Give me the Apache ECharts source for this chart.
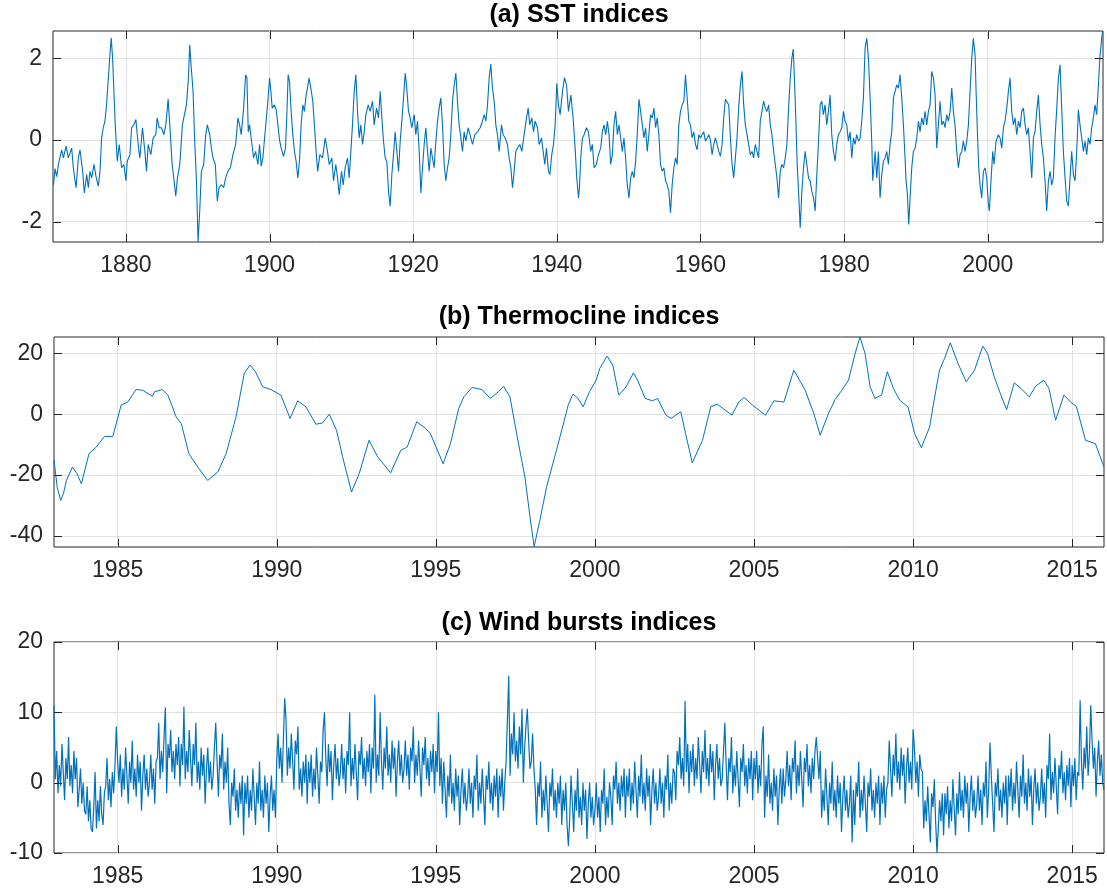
<!DOCTYPE html>
<html>
<head>
<meta charset="utf-8">
<title>SST, thermocline and wind bursts indices</title>
<script src="https://cdn.jsdelivr.net/npm/echarts@6/dist/echarts.min.js"></script>
<style>
  html, body { margin: 0; padding: 0; background: #fff; }
  #main { width: 1107px; height: 894px; }
</style>
</head>
<body>
<div id="main"></div>
<script>
// values: [year, index]
var sstPoints = [
  [1869.92,-1.1],[1870.14,-0.7],[1870.37,-0.9],[1870.6,-0.6],[1871.06,-0.24],[1871.3,-0.44],[1871.67,-0.15],[1871.99,-0.44],
  [1872.45,-0.2],[1872.69,-0.7],[1873.06,-1.17],[1873.38,-0.44],[1873.61,-0.24],[1873.98,-0.77],[1874.21,-1.3],[1874.54,-0.85],
  [1874.77,-1.17],[1875.0,-0.77],[1875.23,-0.93],[1875.56,-0.6],[1875.83,-0.89],[1876.16,-1.13],[1876.39,-0.77],[1876.62,0.05],
  [1876.85,0.3],[1877.08,0.46],[1877.31,0.86],[1877.55,1.5],[1877.78,2.1],[1877.96,2.5],[1878.15,2.0],[1878.33,1.2],
  [1878.52,0.37],[1878.8,-0.52],[1879.07,-0.11],[1879.4,-0.68],[1879.72,-0.6],[1880.0,-1.0],[1880.19,-0.52],[1880.56,-0.36],
  [1880.79,0.3],[1881.11,0.37],[1881.39,0.5],[1881.71,-0.11],[1881.94,-0.44],[1882.31,0.3],[1882.64,-0.28],[1882.87,-0.77],
  [1883.1,-0.11],[1883.47,-0.36],[1883.8,0.05],[1884.17,0.13],[1884.35,0.54],[1884.63,0.3],[1884.95,0.3],[1885.28,0.13],
  [1885.56,0.37],[1885.88,1.0],[1886.11,0.37],[1886.44,-0.6],[1886.71,-1.0],[1886.94,-1.38],[1887.18,-0.93],[1887.5,-0.6],
  [1887.87,0.37],[1888.1,0.58],[1888.43,0.86],[1888.7,1.5],[1888.89,2.33],[1889.07,1.84],[1889.35,1.2],[1889.58,-0.03],
  [1889.81,-0.93],[1890.05,-2.5],[1890.28,-1.74],[1890.51,-0.77],[1890.83,-0.6],[1891.11,0.13],[1891.34,0.37],[1891.67,0.13],
  [1891.9,-0.2],[1892.13,-0.44],[1892.45,-0.6],[1892.73,-1.5],[1892.96,-1.17],[1893.29,-1.1],[1893.61,-1.17],[1893.89,-0.93],
  [1894.21,-0.77],[1894.54,-0.68],[1894.91,-0.36],[1895.28,-0.11],[1895.6,0.54],[1895.83,0.37],[1896.06,0.13],[1896.39,0.78],
  [1896.67,1.6],[1896.85,1.52],[1897.04,0.2],[1897.22,0.37],[1897.5,-0.03],[1897.78,-0.44],[1898.06,-0.28],[1898.38,-0.6],
  [1898.61,-0.11],[1898.84,-0.64],[1899.07,-0.44],[1899.44,0.3],[1899.77,0.95],[1900.0,1.52],[1900.19,1.19],[1900.37,0.78],
  [1900.69,0.86],[1900.93,0.74],[1901.16,0.37],[1901.39,0.0],[1901.62,-0.2],[1901.94,-0.4],[1902.22,-0.2],[1902.41,0.62],
  [1902.59,1.6],[1902.78,1.43],[1903.01,0.7],[1903.24,0.13],[1903.47,-0.28],[1903.7,-0.52],[1903.94,-0.93],[1904.17,-0.52],
  [1904.4,0.37],[1904.63,0.86],[1904.86,0.7],[1905.09,1.1],[1905.32,1.31],[1905.5,1.52],[1905.79,1.23],[1906.02,0.95],
  [1906.25,0.37],[1906.48,-0.28],[1906.71,-0.77],[1907.0,-0.36],[1907.38,-0.44],[1907.75,0.05],[1908.07,-0.28],[1908.31,-0.6],
  [1908.68,-0.44],[1908.91,-1.0],[1909.23,-0.6],[1909.47,-0.93],[1909.7,-1.34],[1910.02,-0.77],[1910.26,-1.1],[1910.53,-0.68],
  [1910.86,-0.44],[1911.09,-0.93],[1911.32,-0.28],[1911.55,0.37],[1911.79,1.19],[1912.02,1.6],[1912.25,0.7],[1912.48,0.05],
  [1912.71,0.37],[1912.95,-0.11],[1913.18,0.2],[1913.41,0.62],[1913.74,0.86],[1914.01,0.7],[1914.34,0.95],[1914.57,0.37],
  [1914.9,0.78],[1915.17,0.54],[1915.41,1.19],[1915.64,0.54],[1915.87,-0.03],[1916.1,-0.44],[1916.33,-0.52],[1916.57,-1.26],
  [1916.8,-1.62],[1917.03,-0.85],[1917.26,-0.36],[1917.49,0.2],[1917.73,-0.28],[1917.96,-0.77],[1918.19,-0.03],[1918.42,0.46],
  [1918.65,1.03],[1918.89,1.64],[1919.07,1.35],[1919.35,0.7],[1919.58,0.54],[1919.81,0.3],[1920.14,0.62],[1920.37,0.13],
  [1920.6,0.46],[1920.84,-0.28],[1921.07,-1.3],[1921.3,-0.68],[1921.53,-0.11],[1921.76,0.3],[1922.0,-0.28],[1922.23,-0.77],
  [1922.46,-0.2],[1922.69,-0.44],[1922.92,-0.68],[1923.16,-0.03],[1923.39,0.46],[1923.62,0.78],[1923.85,1.03],[1924.08,0.37],
  [1924.32,-0.6],[1924.55,-1.0],[1924.78,-0.68],[1925.01,-0.44],[1925.24,0.13],[1925.48,0.95],[1925.71,1.35],[1925.94,1.64],
  [1926.17,0.95],[1926.4,0.37],[1926.64,0.05],[1926.87,-0.28],[1927.1,0.2],[1927.33,-0.03],[1927.66,0.3],[1928.03,0.05],
  [1928.26,-0.11],[1928.58,0.13],[1928.96,0.2],[1929.33,0.3],[1929.65,0.46],[1929.88,0.62],[1930.12,0.46],[1930.35,0.86],
  [1930.58,1.52],[1930.81,1.86],[1931.04,1.27],[1931.28,0.95],[1931.51,0.37],[1931.74,0.13],[1931.97,-0.28],[1932.3,0.37],
  [1932.53,0.13],[1932.81,0.05],[1933.13,-0.11],[1933.36,-0.44],[1933.6,-0.68],[1933.83,-1.17],[1934.06,-0.77],[1934.29,-0.28],
  [1934.52,-0.2],[1934.85,-0.11],[1935.13,-0.28],[1935.45,0.13],[1935.78,0.54],[1936.01,0.78],[1936.24,0.37],[1936.52,0.54],
  [1936.75,0.2],[1936.98,0.46],[1937.31,0.3],[1937.54,-0.11],[1937.87,0.05],[1938.1,-0.28],[1938.33,-0.6],[1938.56,-0.2],
  [1938.84,-0.77],[1939.03,-0.85],[1939.3,-0.36],[1939.54,-0.11],[1939.77,0.37],[1940.0,1.39],[1940.23,0.86],[1940.46,0.62],
  [1940.79,1.19],[1941.07,1.53],[1941.35,1.35],[1941.62,0.7],[1941.95,1.1],[1942.27,0.54],[1942.55,-0.2],[1942.78,-0.93],
  [1943.02,-1.42],[1943.15,-1.17],[1943.33,-0.44],[1943.56,0.05],[1943.8,0.13],[1944.12,0.3],[1944.4,0.2],[1944.72,-0.28],
  [1944.95,-0.11],[1945.19,-0.68],[1945.51,-0.6],[1945.79,-0.36],[1946.11,-0.2],[1946.34,0.2],[1946.57,0.37],[1946.81,0.13],
  [1947.04,0.46],[1947.27,0.13],[1947.5,-0.6],[1947.73,-0.36],[1947.96,0.37],[1948.19,0.7],[1948.43,0.13],[1948.66,0.37],
  [1948.89,0.05],[1949.12,-0.28],[1949.35,0.05],[1949.58,-0.44],[1949.81,-1.1],[1950.05,-1.42],[1950.28,-0.93],[1950.51,-0.77],
  [1950.74,-0.93],[1950.97,-0.52],[1951.2,0.13],[1951.44,1.0],[1951.67,0.7],[1951.9,0.37],[1952.13,0.05],[1952.36,0.3],
  [1952.59,-0.28],[1952.82,0.13],[1953.06,0.62],[1953.29,0.54],[1953.52,0.78],[1953.75,0.3],[1953.98,0.54],[1954.21,0.13],
  [1954.44,-0.6],[1954.68,-0.77],[1954.91,-0.68],[1955.14,-1.0],[1955.37,-1.1],[1955.6,-1.26],[1955.83,-1.78],[1956.06,-1.1],
  [1956.3,-0.68],[1956.53,-0.44],[1956.76,-0.6],[1956.99,0.37],[1957.22,0.7],[1957.45,0.86],[1957.69,0.95],[1957.92,1.6],
  [1958.15,1.03],[1958.38,0.46],[1958.61,0.37],[1958.84,0.05],[1959.07,0.2],[1959.31,-0.11],[1959.54,-0.24],[1959.77,0.13],
  [1960.0,0.05],[1960.23,0.13],[1960.46,0.2],[1960.69,-0.03],[1960.93,0.05],[1961.16,0.13],[1961.39,0.0],[1961.62,-0.36],
  [1961.85,-0.11],[1962.08,0.05],[1962.31,-0.11],[1962.55,-0.28],[1962.78,-0.4],[1963.01,-0.11],[1963.24,0.54],[1963.47,1.0],
  [1963.7,1.03],[1963.94,0.86],[1964.17,0.05],[1964.4,-0.6],[1964.63,-0.93],[1964.86,-0.44],[1965.09,0.05],[1965.32,0.78],
  [1965.56,1.35],[1965.79,1.68],[1966.02,0.86],[1966.25,0.37],[1966.48,0.13],[1966.71,-0.11],[1966.94,-0.36],[1967.18,-0.28],
  [1967.41,-0.44],[1967.64,-0.11],[1967.87,-0.28],[1968.1,-0.44],[1968.33,0.46],[1968.56,0.7],[1968.8,0.95],[1969.03,0.78],
  [1969.26,0.7],[1969.49,0.86],[1969.72,0.37],[1969.95,0.13],[1970.19,-0.28],[1970.42,-0.6],[1970.65,-0.93],[1970.88,-1.42],
  [1971.11,-0.77],[1971.34,-0.6],[1971.57,-0.68],[1971.81,-0.44],[1972.04,-0.11],[1972.27,0.78],[1972.5,1.52],[1972.73,2.0],
  [1972.92,2.23],[1973.1,1.43],[1973.29,0.46],[1973.47,-0.6],[1973.66,-1.26],[1973.89,-2.15],[1974.12,-1.26],[1974.35,-0.68],
  [1974.58,-0.28],[1974.81,-0.6],[1975.05,-0.93],[1975.28,-1.0],[1975.51,-1.26],[1975.74,-1.42],[1975.97,-1.74],[1976.2,-0.85],
  [1976.44,-0.03],[1976.67,0.86],[1976.89,0.95],[1977.12,0.62],[1977.35,0.86],[1977.59,0.37],[1977.82,0.7],[1978.05,1.1],
  [1978.28,0.13],[1978.52,-0.28],[1978.75,-0.52],[1978.98,-0.11],[1979.21,0.13],[1979.44,0.2],[1979.68,0.3],[1979.91,0.7],
  [1980.14,0.46],[1980.37,0.37],[1980.6,-0.03],[1980.84,0.2],[1981.07,-0.44],[1981.3,0.05],[1981.53,-0.11],[1981.76,0.13],
  [1982.0,-0.03],[1982.23,0.05],[1982.46,0.46],[1982.69,1.03],[1982.92,2.25],[1983.16,2.49],[1983.39,2.0],[1983.62,1.03],
  [1983.85,-0.03],[1983.99,-1.0],[1984.18,-0.6],[1984.32,-0.28],[1984.55,-0.93],[1984.78,-0.28],[1985.01,-1.42],[1985.24,-0.85],
  [1985.48,-0.52],[1985.71,-0.44],[1985.94,-0.28],[1986.17,-0.6],[1986.4,-0.11],[1986.64,0.2],[1986.87,1.03],[1987.1,1.19],
  [1987.33,1.35],[1987.56,1.27],[1987.8,1.6],[1988.03,1.03],[1988.26,0.37],[1988.49,-0.44],[1988.63,-1.0],[1988.82,-1.34],
  [1989.0,-2.07],[1989.19,-1.42],[1989.42,-0.68],[1989.65,-0.28],[1989.88,-0.2],[1990.12,0.05],[1990.35,0.46],[1990.58,0.2],
  [1990.81,0.54],[1991.04,0.37],[1991.28,0.7],[1991.51,0.37],[1991.74,0.7],[1991.97,0.86],[1992.2,1.68],[1992.44,1.52],
  [1992.67,1.1],[1992.9,-0.2],[1993.13,0.37],[1993.36,0.95],[1993.6,0.37],[1993.83,0.46],[1994.06,0.3],[1994.29,0.62],
  [1994.52,0.46],[1994.76,0.7],[1994.99,1.27],[1995.22,0.7],[1995.45,0.37],[1995.68,-0.28],[1995.92,-0.68],[1996.15,-0.36],
  [1996.38,-0.28],[1996.61,-0.03],[1996.84,-0.28],[1997.08,-0.03],[1997.31,0.37],[1997.54,1.19],[1997.77,2.0],[1998.0,2.49],
  [1998.24,2.08],[1998.38,1.19],[1998.56,0.2],[1998.75,-0.68],[1998.93,-1.1],[1999.16,-1.42],[1999.4,-0.77],[1999.63,-0.68],
  [1999.86,-0.93],[2000.09,-1.58],[2000.23,-1.74],[2000.42,-1.1],[2000.7,-0.28],[2000.88,-0.6],[2001.16,-0.03],[2001.48,0.13],
  [2001.72,0.05],[2001.95,-0.2],[2002.18,0.3],[2002.41,0.46],[2002.65,0.78],[2002.88,1.19],[2003.11,1.52],[2003.34,0.7],
  [2003.57,0.37],[2003.8,0.54],[2004.04,0.13],[2004.27,0.46],[2004.5,0.3],[2004.73,0.7],[2004.97,0.78],[2005.2,0.37],
  [2005.43,0.13],[2005.66,0.3],[2005.89,-0.28],[2006.13,-0.93],[2006.36,0.05],[2006.59,0.2],[2006.82,0.7],[2007.05,1.1],
  [2007.29,0.37],[2007.52,-0.11],[2007.75,-0.44],[2007.98,-1.0],[2008.21,-1.74],[2008.45,-1.0],[2008.68,-0.77],[2008.91,-1.1],
  [2009.14,-0.93],[2009.37,0.05],[2009.61,0.78],[2009.84,1.52],[2010.07,1.84],[2010.3,0.78],[2010.53,-0.28],[2010.77,-0.93],
  [2011.0,-1.5],[2011.23,-1.62],[2011.46,-0.93],[2011.69,-0.28],[2011.93,-0.85],[2012.16,-1.0],[2012.39,-0.28],[2012.62,0.74],
  [2012.85,0.37],[2013.09,0.05],[2013.32,-0.28],[2013.55,-0.03],[2013.78,-0.36],[2014.01,0.05],[2014.24,-0.11],[2014.48,0.3],
  [2014.71,0.54],[2014.94,0.86],[2015.17,0.62],[2015.41,1.35],[2015.64,2.08],[2015.87,2.49],[2016.0,2.67]
];

var thermoPoints = [
  [1983.0,-15],[1983.1,-24],[1983.21,-28.4],[1983.3,-26],[1983.39,-21.8],[1983.58,-17.4],[1983.72,-19.5],[1983.86,-22.9],
  [1984.1,-13],[1984.33,-10.8],[1984.59,-7.3],[1984.85,-7.3],[1985.11,3],[1985.32,4],[1985.58,8.1],[1985.79,7.9],
  [1986.09,5.9],[1986.16,7.4],[1986.4,8.1],[1986.58,6.3],[1986.84,-0.9],[1987.0,-3.1],[1987.24,-13],[1987.52,-17.4],
  [1987.83,-21.8],[1988.15,-19],[1988.41,-13],[1988.72,-0.9],[1988.98,13.4],[1989.16,16.2],[1989.33,14],[1989.56,9],
  [1989.82,8.1],[1990.13,6.3],[1990.42,-1.4],[1990.66,4.4],[1990.92,2.4],[1991.23,-3.3],[1991.44,-2.9],[1991.65,0],
  [1991.88,-5.3],[1992.07,-14],[1992.35,-25.6],[1992.59,-19.6],[1992.9,-8.6],[1993.17,-14],[1993.58,-19.3],[1993.9,-11.9],
  [1994.1,-10.8],[1994.4,-2.5],[1994.68,-4.7],[1994.83,-6.4],[1995.23,-16.3],[1995.46,-9.7],[1995.72,1.9],[1995.88,5.7],
  [1996.14,8.8],[1996.45,8.1],[1996.71,5.2],[1996.97,7.4],[1997.13,9.2],[1997.33,5.7],[1997.54,-6.4],[1997.8,-20.7],
  [1997.96,-33.8],[1998.09,-43.6],[1998.27,-34.9],[1998.48,-24],[1998.79,-11.9],[1999.0,-3.6],[1999.16,3],[1999.31,6.6],
  [1999.47,5.2],[1999.63,2.4],[1999.83,7.4],[2000.04,11.2],[2000.15,15],[2000.38,19.1],[2000.56,16.2],[2000.75,6.3],
  [2000.98,9],[2001.21,13.6],[2001.34,11.2],[2001.58,5.2],[2001.81,4.4],[2001.97,5.2],[2002.23,-0.3],[2002.39,-1.4],
  [2002.7,0.8],[2002.85,-6.4],[2003.06,-16],[2003.38,-8.6],[2003.64,2.4],[2003.84,3.3],[2004.1,1.3],[2004.31,-0.3],
  [2004.52,4],[2004.69,5.5],[2004.95,3],[2005.16,1.3],[2005.36,-0.3],[2005.63,4.4],[2005.94,4],[2006.25,14.5],
  [2006.61,7.9],[2006.88,0.2],[2007.08,-6.9],[2007.34,0.2],[2007.55,4.8],[2007.76,7.9],[2007.97,11.2],[2008.18,20],
  [2008.33,25.4],[2008.49,20],[2008.65,9],[2008.8,5.2],[2009.01,6.3],[2009.19,14],[2009.38,8.5],[2009.58,4.6],
  [2009.84,2.4],[2010.05,-6.4],[2010.26,-11],[2010.52,-4.2],[2010.68,5.7],[2010.83,14.5],[2010.99,18.4],[2011.17,23.5],
  [2011.41,16.7],[2011.67,10.7],[2011.93,14.5],[2012.19,22.4],[2012.34,20],[2012.55,12.3],[2012.76,6.3],[2012.94,1.5],
  [2013.18,10.3],[2013.39,8.5],[2013.65,5.7],[2013.85,9.2],[2014.11,11.2],[2014.27,8.5],[2014.48,-2],[2014.74,6.3],
  [2014.95,4],[2015.13,2.6],[2015.42,-8.6],[2015.73,-9.7],[2016.0,-17.4]
];

// wind bursts: 24 readings per year from 1983.0 (one row per year)
var windStart = 1983;
var windPerYear = 24;
var windValues = [
  11, 0.5, 4.5, -1.5, 2.5, -0.5, 5.5, 1.5, -2.5, 3.5, 0.5, 6.5, -0.5, 2.5, -1.5, 4.5, 0.5, 3.5, -3.5, -1, 2, -3, 0, -4,
  -4.5, -0.5, -5.5, -2.5, -6.5, -7, -3.5, 1.5, -6.5, -2.5, -5.5, -0.5, -4.5, -6, -1.5, -0.5, 3.5, -2.5, 0.5, -3.5, 1.5, -1.5, 2.5, 8,
  3, 0, 4, -2, 2, -1, 5, 1, -3, 3, 0, 6, -1, 2, -2, 4, 0, 3, -4, 1, 4, -1, 2, -2,
  0, 4, -1, 2, -3, 3, 3.5, 8.5, 0.5, 4.5, 1.5, 6.5, 10.7, -1.5, 5.5, 3.5, 7.5, 1.5, 4.5, 0.5, 5.5, 2.5, 6.5, -0.5,
  5.5, 2.5, 10.8, 0.5, 4.5, 1.5, 7.5, 3.5, -0.5, 5.5, 2.5, 8.5, 0, 3, -1, 5, 1, 4, -3, 2, 5, 0, 3, -1,
  1, 5, 8.5, 3, -2, 4, 2, 7, -1, 3, 0, 5, -3, -6, 0, -2, 2, -4, -1, -5, 0, -3, 1, -7.5,
  0, -3, 1, -5, -1, -4, 2, -2, -6, 0, -3, 3, -4, -1, -5, 1, -3, 0, -7, -2, 1, -4, -1, -5,
  3, 7, 2, 5, 0, 6, 12, 9, 1, 5, 2, 7, 3, -1, 6, 4, 8, -1, 2, -2, 3, 0, 4, -3,
  3, 0, 4, -2, 2, -1, 5, 1, -3, 3, 1.5, 7.5, 10, 3.5, -0.5, 5.5, 1.5, 4.5, -2.5, 2.5, 5.5, 0.5, 3.5, -0.5,
  1.5, 5.5, 0.5, 3.5, -1.5, 4.5, 2.5, 10, -0.5, 3.5, 0.5, 5.5, 1.5, -2.5, 4.5, 2.5, 6.5, 0.5, 3.5, -0.5, 4.5, 1.5, 5.5, -1.5,
  5, 2, 12.5, 0, 4, 1, 10, 3, -1, 5, 2, 8, 1, 4, 0, 6, 2, 5, -2, 3, 6, 1, 4, 0,
  2, 6, 1, 4, -1, 5, 3, 8, 0, 4, 1, 6, 2, -2, 5, 2.5, 6.5, 0.5, 3.5, -0.5, 4.5, 1.5, 5.5, -1.5,
  4.5, 1.5, 10, -0.5, 3.5, -3, 3, -1, -5, 1, -2, 4, -3, 0, -4, 2, -2, 1, -6, -1, 2, -3, 0, -4,
  -2, 2, -3, 0, -5, 1, -1, 4, -4, 0, -3, 2, -2, -6, 1, -1, 3, -3, 0, -4, 1, -2, 2, -5,
  1, -2, 2, -4, 0, 3, 9, 15.2, 1, 7, 4, 10, 3, 6, 2, 8, 4, 10.5, 0, 5, 8, 10.5, 6, 2,
  3, 7, 2, -1, -6, 0, -2, 3, -5, -1, -4, 1, -3, -7, 0, -2, 2, -4, -1, -5, 0, -3, 1, -6,
  -1, -4, 0, -6, -9, -5, 1, -3, -7, -1, -4, 2, -5, -2, -6, 0, -4, -1, -8, -3, 0, -5, -2, -6,
  -4, 0, -5, -2, -7, -1, -3, 2, -6, -2, -5, 0, -2, -6, 1, -1, 3, -3, 0, -4, 1, -2, 2, -5,
  1, -2, 2, -4, 0, -3, 3, -1, -5, 1, -2, 4, -3, 0, -4, 2, -2, 1, -6, -1, 2, -3, 0, -4,
  -2, 2, -3, 0, -5, 1, -1, 4, -4, 0, -3, 2, 1.5, -2.5, 4.5, 2.5, 6.5, 0.5, 3.5, -0.5, 11.6, 1.5, 5.5, -1.5,
  4.5, 1.5, 5.5, -0.5, 3.5, 0.5, 6.5, 2.5, -1.5, 4.5, 1.5, 7.5, 0.5, 3.5, -0.5, 5.5, 1.5, 4.5, -2.5, 2.5, 5.5, 0.5, 3.5, -0.5,
  0.5, 4.5, 8.5, 2.5, -2.5, 3.5, 1.5, 6.5, -1.5, 2.5, -0.5, 4.5, 0.5, -3.5, 3.5, 1.5, 5.5, -0.5, 2.5, -1.5, 3.5, 0.5, 4.5, -2.5,
  3.5, 0.5, 4.5, -1.5, 2.5, -0.5, 5.5, 8, -5, 1, -2, 4, -3, 0, -4, 2, -2, 1, -6, -1, 2, -3, 2, -2,
  0.5, 4.5, -0.5, 2.5, -2.5, 3.5, 1.5, 6, -1.5, 2.5, -0.5, 4.5, 0.5, -3.5, 3.5, 1.5, 5.5, -0.5, 2.5, -1.5, 3.5, 0.5, 4.5, 6.5,
  3.5, 0.5, 4.5, -5, -1, -4, 2, -2, -6, 0, -3, 3, -4, -1, -5, 1, -3, 0, -7, -2, 1, -4, -1, -5,
  -3, 1, -8.5, -1, -6, 0, -2, 3, -5, -1, -4, 1, -3, -7, 0, -2, 2, -4, -1, -5, 0, -3, 1, -6,
  0, -3, 1, -5, -1, 0, 6, 2, -2, 4, 1, 7, 0, 3, -1, 5, 1, 4, -3, 2, 5, 0, 3, -1,
  7.6, 5, 0, 3, -2, 4, 2, 1.5, -6.5, -2.5, -5.5, -0.5, -4.5, -8.5, -1.5, -3.5, 0.5, -5.5, -10, -6.5, -2.5, -5.5, -1.5, -7.5,
  -1.5, -4.5, -0.5, -6.5, -2.5, -5.5, 0.5, -3.5, -7.5, -1.5, -4.5, 1.5, -4, -1, -5, 1, -3, 0, -7, -2, 1, -4, -1, -5,
  -3, 1, -4, -1, -6, 0, -2, 3, -5, -1, 5.7, 1, -3, -7, 0, -2, 2, -4, -1, -5, 0, -3, 1, -6,
  1, -2, 2, -4, 0, -3, 3, -1, -5, 1, -2, 4, -3, 0, -4, 2, -2, 1, -6, -1, 2, -3, 0, -4,
  -2, 2, -3, 0, -5, 2.5, 0.5, 7, -2.5, 1.5, -1.5, 3.5, -0.5, -4.5, 2.5, 0.5, 4.5, -1.5, 1.5, -2.5, 2.5, -0.5, 3.5, -3.5,
  2.5, -0.5, 3.5, -2.5, 1.5, 1, 11.7, 3, -1, 5, 2, 8, 1, 4, 11, 6, 2, 5, -2, 3, 6, 1, 4, 0,
  -1
];

var sstYearTicks = [1880, 1900, 1920, 1940, 1960, 1980, 2000];
var yearTicks = [1985, 1990, 1995, 2000, 2005, 2010, 2015];
var sstTicks = [-2, 0, 2];
var thermoTicks = [-40, -20, 0, 20];
var windTicks = [-10, 0, 10, 20];
var titles = ['(a) SST indices', '(b) Thermocline indices', '(c) Wind bursts indices'];

var lineColor = '#0072bd';
var axisColor = '#262626';
var gridLineColor = '#e2e2e2';
var fontFamily = 'Arial, "Liberation Sans", Helvetica, sans-serif';
var tickLen = 8;

var chart = echarts.init(document.getElementById('main'), null, { renderer: 'canvas' });

var windData = windValues.map(function (v, i) {
  return [windStart + i / windPerYear, v];
});

function plain(v) { return String(v); }

// labelled axis on top of a bare axis that only carries the grid lines
function makeAxes(dim, gridIndex, min, max, ticks) {
  return [
    {
      type: 'value', gridIndex: gridIndex, position: dim === 'x' ? 'bottom' : 'left', min: min, max: max, z: 5,
      axisLine: { show: false, onZero: false },
      axisTick: { show: false, customValues: ticks },
      axisLabel: {
        customValues: ticks, formatter: plain, margin: dim === 'x' ? 12 : 11,
        color: axisColor, fontSize: 23, fontFamily: fontFamily
      },
      splitLine: { show: false }
    },
    {
      type: 'value', gridIndex: gridIndex, position: dim === 'x' ? 'bottom' : 'left', min: min, max: max, z: 0,
      axisLine: { show: false, onZero: false },
      axisTick: { show: false, customValues: ticks },
      axisLabel: { show: false },
      splitLine: { show: true, lineStyle: { color: gridLineColor, width: 1 } }
    }
  ];
}

function lineSeries(gridIndex, data, width) {
  return {
    type: 'line', xAxisIndex: gridIndex * 2, yAxisIndex: gridIndex * 2, data: data,
    symbol: 'none', showSymbol: false, silent: true, z: 2,
    lineStyle: { color: lineColor, width: width }
  };
}

// MATLAB-style inward ticks on all four sides, placed through the axis scales
function tickMarks(gridIndex, dim, ticks, across) {
  return {
    type: 'custom', xAxisIndex: gridIndex * 2, yAxisIndex: gridIndex * 2,
    silent: true, clip: false, z: 6,
    data: ticks.map(function (v) { return dim === 'x' ? [v, across] : [across, v]; }),
    renderItem: function (params, api) {
      var cs = params.coordSys;
      var pt = api.coord([api.value(0), api.value(1)]);
      function seg(x1, y1, x2, y2) {
        return { type: 'line', shape: { x1: x1, y1: y1, x2: x2, y2: y2 }, style: { stroke: axisColor, lineWidth: 1 } };
      }
      if (dim === 'x') {
        var px = Math.round(pt[0]) + 0.5;
        var bottom = cs.y + cs.height;
        return { type: 'group', children: [seg(px, bottom, px, bottom - tickLen), seg(px, cs.y, px, cs.y + tickLen)] };
      }
      var py = Math.round(pt[1]) + 0.5;
      var right = cs.x + cs.width;
      return { type: 'group', children: [seg(cs.x, py, cs.x + tickLen, py), seg(right, py, right - tickLen, py)] };
    }
  };
}

var gridBox = { show: true, borderColor: axisColor, borderWidth: 1, containLabel: false };

var option = {
  animation: false,
  backgroundColor: '#ffffff',
  grid: [
    Object.assign({ left: 53, right: 4, top: 31, height: 211 }, gridBox),
    Object.assign({ left: 54, right: 3, top: 337, height: 210 }, gridBox),
    Object.assign({ left: 54, right: 3, top: 642, height: 211 }, gridBox)
  ],
  xAxis: [].concat(
    makeAxes('x', 0, 1869.85, 2016.05, sstYearTicks),
    makeAxes('x', 1, 1983, 2016, yearTicks),
    makeAxes('x', 2, 1983, 2016, yearTicks)
  ),
  yAxis: [].concat(
    makeAxes('y', 0, -2.5, 2.67, sstTicks),
    makeAxes('y', 1, -43.7, 25.4, thermoTicks),
    makeAxes('y', 2, -10, 20, windTicks)
  ),
  graphic: titles.map(function (t, i) {
    return {
      type: 'text', x: 579, y: [15, 317, 623][i], silent: true,
      style: {
        text: t, align: 'center', verticalAlign: 'middle',
        fontSize: 25, fontWeight: 'bold', fontFamily: fontFamily, fill: '#000'
      }
    };
  }),
  series: [
    lineSeries(0, sstPoints, 1.1),
    lineSeries(1, thermoPoints, 1),
    lineSeries(2, windData, 1.2),
    tickMarks(0, 'x', sstYearTicks, 0),
    tickMarks(0, 'y', sstTicks, 1900),
    tickMarks(1, 'x', yearTicks, 0),
    tickMarks(1, 'y', thermoTicks, 2000),
    tickMarks(2, 'x', yearTicks, 0),
    tickMarks(2, 'y', windTicks, 2000)
  ]
};

chart.setOption(option);
</script>
</body>
</html>
